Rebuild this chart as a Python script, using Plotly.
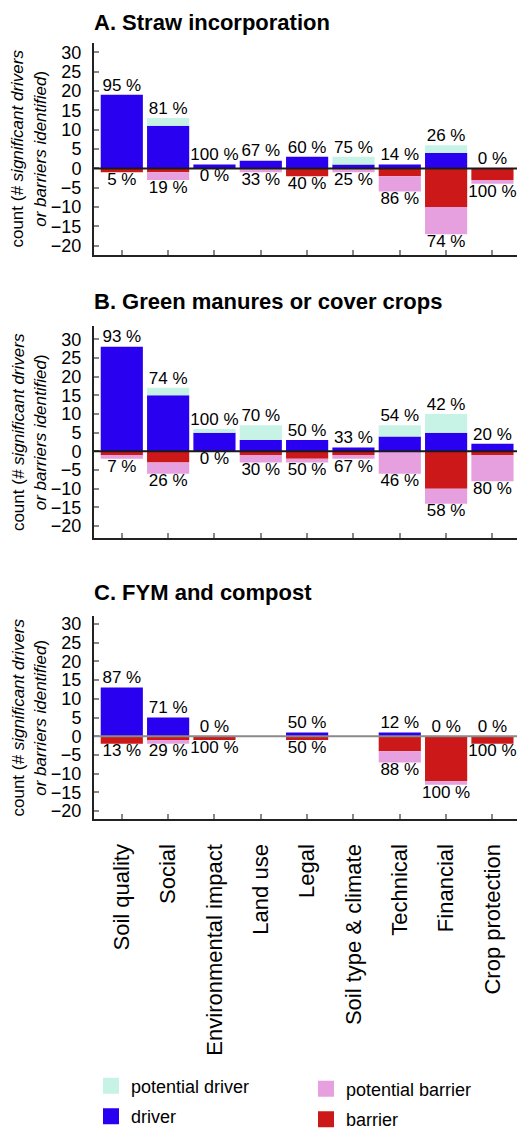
import plotly.graph_objects as go

W, H = 517, 1138

categories = ["Soil quality", "Social", "Environmental impact", "Land use", "Legal",
              "Soil type & climate", "Technical", "Financial", "Crop protection"]

# Panel A – Straw incorporation (counts; barriers as positive counts, drawn downward)
A_driver = [19, 11, 1, 2, 3, 1, 1, 4, 0]
A_pot_driver = [0, 2, 0, 0, 0, 2, 0, 2, 0]
A_barrier = [1, 1, 0, 0, 2, 0, 2, 10, 3]
A_pot_barrier = [0, 2, 0, 1, 0, 1, 4, 7, 1]

# Panel B – Green manures or cover crops
B_driver = [28, 15, 5, 3, 3, 1, 4, 5, 2]
B_pot_driver = [0, 2, 1, 4, 0, 0, 3, 5, 0]
B_barrier = [1, 3, 0, 1, 2, 1, 0, 10, 1]
B_pot_barrier = [1, 3, 0, 2, 1, 1, 6, 4, 7]

# Panel C – FYM and compost
C_driver = [13, 5, 0, 0, 1, 0, 1, 0, 0]
C_pot_driver = [0, 0, 0, 0, 0, 0, 0, 0, 0]
C_barrier = [2, 1, 1, 0, 1, 0, 4, 12, 2]
C_pot_barrier = [0, 1, 0, 0, 0, 0, 3, 1, 0]

panel_titles = ["A. Straw incorporation", "B. Green manures or cover crops", "C. FYM and compost"]
y_ticks = [-20, -15, -10, -5, 0, 5, 10, 15, 20, 25, 30]

panels = [
    (A_driver, A_pot_driver, A_barrier, A_pot_barrier),
    (B_driver, B_pot_driver, B_barrier, B_pot_barrier),
    (C_driver, C_pot_driver, C_barrier, C_pot_barrier),
]

# layout geometry (pixels from top)
dom_px = [(43, 257), (329.3, 543.3), (621.7, 827.3)]
y_ranges = [(-22.25, 32.5), (-23.2, 33.5), (-22.2, 32.2)]
title_mid_px = [23, 304, 598]
zero_colors = ["#1a1a1a", "#1a1a1a", "#8a8a8a"]

COL_DRIVER = "#2a00f0"
COL_POT_DRIVER = "#c6f3e6"
COL_BARRIER = "#cc1818"
COL_POT_BARRIER = "#e6a0e0"

FONT = "Liberation Sans, Arial, sans-serif"

fig = go.Figure()
x_left = 94 / W

layout_axes = {}
shapes = []
annotations = []

for k, (drv, pdrv, bar, pbar) in enumerate(panels):
    sfx = "" if k == 0 else str(k + 1)
    xa, ya = "x" + sfx, "y" + sfx
    fig.add_trace(go.Bar(x=categories, y=drv, marker_color=COL_DRIVER, name="driver",
                         xaxis=xa, yaxis=ya, showlegend=False, marker_line_width=0))
    fig.add_trace(go.Bar(x=categories, y=pdrv, marker_color=COL_POT_DRIVER, name="potential driver",
                         xaxis=xa, yaxis=ya, showlegend=False, marker_line_width=0))
    fig.add_trace(go.Bar(x=categories, y=[-v for v in bar], marker_color=COL_BARRIER, name="barrier",
                         xaxis=xa, yaxis=ya, showlegend=False, marker_line_width=0))
    fig.add_trace(go.Bar(x=categories, y=[-v for v in pbar], marker_color=COL_POT_BARRIER,
                         name="potential barrier", xaxis=xa, yaxis=ya, showlegend=False,
                         marker_line_width=0))

    # percentage labels
    tx, ty, tt, bx, by, bt = [], [], [], [], [], []
    for i, c in enumerate(categories):
        pos = drv[i] + pdrv[i]
        neg = bar[i] + pbar[i]
        tot = pos + neg
        if tot == 0:
            continue
        tx.append(c); ty.append(pos); tt.append(f"{round(100 * pos / tot)} %")
        bx.append(c); by.append(-neg); bt.append(f"{round(100 * neg / tot)} %")
    fig.add_trace(go.Scatter(x=tx, y=ty, text=tt, mode="text", textposition="top center",
                             textfont=dict(size=17, color="black", family=FONT),
                             xaxis=xa, yaxis=ya, showlegend=False, cliponaxis=False,
                             hoverinfo="skip"))
    fig.add_trace(go.Scatter(x=bx, y=by, text=bt, mode="text", textposition="bottom center",
                             textfont=dict(size=17, color="black", family=FONT),
                             xaxis=xa, yaxis=ya, showlegend=False, cliponaxis=False,
                             hoverinfo="skip"))

    top, bot = dom_px[k]
    layout_axes["xaxis" + sfx] = dict(
        domain=[x_left, 1], anchor=ya, type="category", range=[-0.6, 8.53],
        showline=True, linecolor="#222222", linewidth=2, ticks="inside", ticklen=5,
        tickcolor="#888888", tickwidth=1.5, showgrid=False, zeroline=False,
        showticklabels=(k == 2), tickangle=-90, ticklabelstandoff=14,
        tickfont=dict(size=22, color="black", family=FONT),
    )
    layout_axes["yaxis" + sfx] = dict(
        domain=[1 - bot / H, 1 - top / H], anchor=xa, range=list(y_ranges[k]),
        tickvals=y_ticks, showline=True, linecolor="#222222", linewidth=2,
        ticks="inside", ticklen=5, tickcolor="#888888", tickwidth=1.5,
        showgrid=False, zeroline=False, ticklabelstandoff=7,
        tickfont=dict(size=18, color="black", family=FONT),
    )
    shapes.append(dict(type="line", xref=xa + " domain", x0=0, x1=1, yref=ya, y0=0, y1=0,
                       line=dict(color=zero_colors[k], width=2), layer="above"))
    annotations.append(dict(text=panel_titles[k], xref="paper", yref="paper",
                            x=x_left - 0.004, y=1 - title_mid_px[k] / H, xanchor="left",
                            yanchor="middle", showarrow=False,
                            font=dict(size=22, color="black", family=FONT, weight="bold")))
    annotations.append(dict(text="count (<i># significant drivers</i><br><i>or barriers identified</i>)",
                            xref="paper", yref=ya + " domain", x=29 / W, y=0.5,
                            xanchor="center", yanchor="middle", textangle=-90,
                            showarrow=False,
                            font=dict(size=17, color="black", family=FONT)))

# legend entries
legend_items = [
    ("potential driver", COL_POT_DRIVER, "legend", "g1"),
    ("driver", COL_DRIVER, "legend", "g2"),
    ("potential barrier", COL_POT_BARRIER, "legend2", "g3"),
    ("barrier", COL_BARRIER, "legend2", "g4"),
]
for name, col, lg, grp in legend_items:
    fig.add_trace(go.Scatter(x=[None], y=[None], mode="markers", name=name,
                             marker=dict(symbol="square", size=20, color=col),
                             legend=lg, legendgroup=grp, showlegend=True,
                             xaxis="x3", yaxis="y3"))

fig.update_layout(
    width=W, height=H, margin=dict(l=0, r=0, t=0, b=0),
    paper_bgcolor="white", plot_bgcolor="white",
    barmode="relative", bargap=0.09,
    font=dict(family=FONT, color="black"),
    shapes=shapes, annotations=annotations,
    legend=dict(x=91 / W, y=1 - 1078 / H, xanchor="left", yanchor="top",
                font=dict(size=18, color="black", family=FONT), itemsizing="trace",
                bgcolor="rgba(0,0,0,0)", traceorder="grouped", tracegroupgap=4),
    legend2=dict(x=306 / W, y=1 - 1081 / H, xanchor="left", yanchor="top",
                 font=dict(size=18, color="black", family=FONT), itemsizing="trace",
                 bgcolor="rgba(0,0,0,0)", traceorder="grouped", tracegroupgap=4),
    **layout_axes,
)

fig.write_html("out.html", config={"displayModeBar": False},
               post_script="document.body.style.margin='0';document.body.style.overflow='hidden';")
